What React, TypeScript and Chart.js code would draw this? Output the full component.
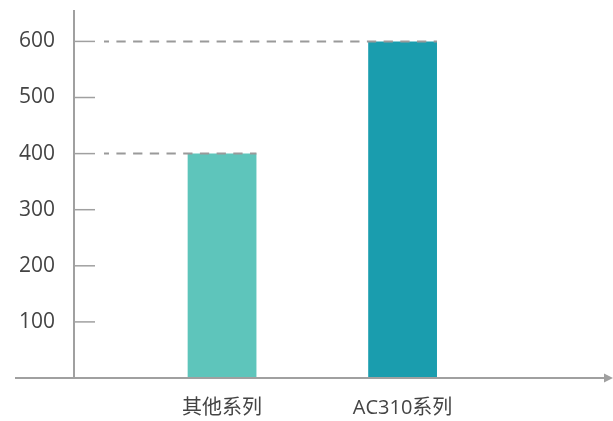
import React, { useEffect, useRef } from 'react';
import { Chart, registerables } from 'chart.js';

Chart.register(...registerables);

const categories = ['其他系列', 'AC310系列'];
const values = [400, 600];
const barColors = ['#5EC5BB', '#1A9DAE'];
const yTickValues = [100, 200, 300, 400, 500, 600];
const yMax = 656;
const xMin = 0.18;
const xMax = 3.11;

const FONT = "'Open Sans', 'Noto Sans CJK SC', sans-serif";
const AXIS_COLOR = '#a0a0a0';
const DASH_COLOR = '#9a9a9a';

const decorPlugin = {
  id: 'decor',
  afterDatasetsDraw(chart: any) {
    const { ctx, chartArea, scales } = chart;
    const left = chartArea.left;
    const bottom = chartArea.bottom;
    ctx.save();
    // y axis line
    ctx.strokeStyle = AXIS_COLOR;
    ctx.lineWidth = 2;
    ctx.beginPath();
    ctx.moveTo(left, chartArea.top);
    ctx.lineTo(left, bottom);
    ctx.stroke();
    // tick marks
    ctx.lineWidth = 1.5;
    ctx.strokeStyle = AXIS_COLOR;
    yTickValues.forEach((v) => {
      const y = scales.y.getPixelForValue(v);
      ctx.beginPath();
      ctx.moveTo(left, y);
      ctx.lineTo(left + 21, y);
      ctx.stroke();
    });
    // dashed guide lines to bar tops
    const meta = chart.getDatasetMeta(0);
    ctx.strokeStyle = DASH_COLOR;
    ctx.lineWidth = 2;
    ctx.setLineDash([9.3, 7.4]);
    meta.data.forEach((el: any) => {
      const y = el.y;
      const x2 = el.x + el.width / 2;
      ctx.lineDashOffset = 4.3;
      ctx.beginPath();
      ctx.moveTo(left + 30, y);
      ctx.lineTo(x2, y);
      ctx.stroke();
    });
    ctx.setLineDash([]);
    // x axis with arrow
    ctx.strokeStyle = AXIS_COLOR;
    ctx.lineWidth = 2;
    ctx.beginPath();
    ctx.moveTo(15, bottom);
    ctx.lineTo(606, bottom);
    ctx.stroke();
    ctx.fillStyle = AXIS_COLOR;
    ctx.beginPath();
    ctx.moveTo(604, bottom - 4.5);
    ctx.lineTo(613, bottom);
    ctx.lineTo(604, bottom + 4.5);
    ctx.closePath();
    ctx.fill();
    ctx.restore();
  },
};

export default function App() {
  const ref = useRef<HTMLCanvasElement>(null);
  useEffect(() => {
    document.body.style.margin = '0';
    const chart = new Chart(ref.current as HTMLCanvasElement, {
      type: 'bar',
      data: {
        datasets: [
          {
            data: categories.map((c, i) => ({ x: i + 1, y: values[i] })),
            backgroundColor: barColors,
            categoryPercentage: 1,
            barPercentage: 0.381,
          },
        ],
      },
      options: {
        animation: false,
        responsive: false,
        devicePixelRatio: 1,
        layout: { padding: { top: 10, right: 10, left: 0, bottom: 0 } },
        plugins: { legend: { display: false }, tooltip: { enabled: false } },
        scales: {
          x: {
            type: 'linear',
            min: xMin,
            max: xMax,
            offset: false,
            bounds: 'data',
            grid: { display: false, drawTicks: false, offset: false },
            border: { display: false },
            afterBuildTicks: (scale: any) => {
              scale.ticks = categories.map((c, i) => ({ value: i + 1 }));
            },
            afterFit: (scale: any) => {
              scale.height = 43;
              scale.paddingLeft = 0;
              scale.paddingRight = 0;
            },
            ticks: {
              padding: 18,
              color: '#444',
              font: { family: FONT, size: 20 },
              maxRotation: 0,
              autoSkip: false,
              callback: (v: any) => categories[Math.round(v) - 1] ?? '',
            },
          },
          y: {
            type: 'linear',
            min: 0,
            max: yMax,
            grid: { display: false, drawTicks: false },
            border: { display: false },
            afterBuildTicks: (scale: any) => {
              scale.ticks = yTickValues.map((v) => ({ value: v }));
            },
            afterFit: (scale: any) => {
              scale.width = 74;
              scale.paddingTop = 0;
              scale.paddingBottom = 0;
            },
            ticks: {
              padding: 19,
              color: '#444',
              font: { family: FONT, size: 21 },
            },
          },
        },
      },
      plugins: [decorPlugin],
    } as any);
    return () => chart.destroy();
  }, []);
  return (
    <div style={{ width: 613, height: 421 }}>
      <canvas ref={ref} width={613} height={421} />
    </div>
  );
}
